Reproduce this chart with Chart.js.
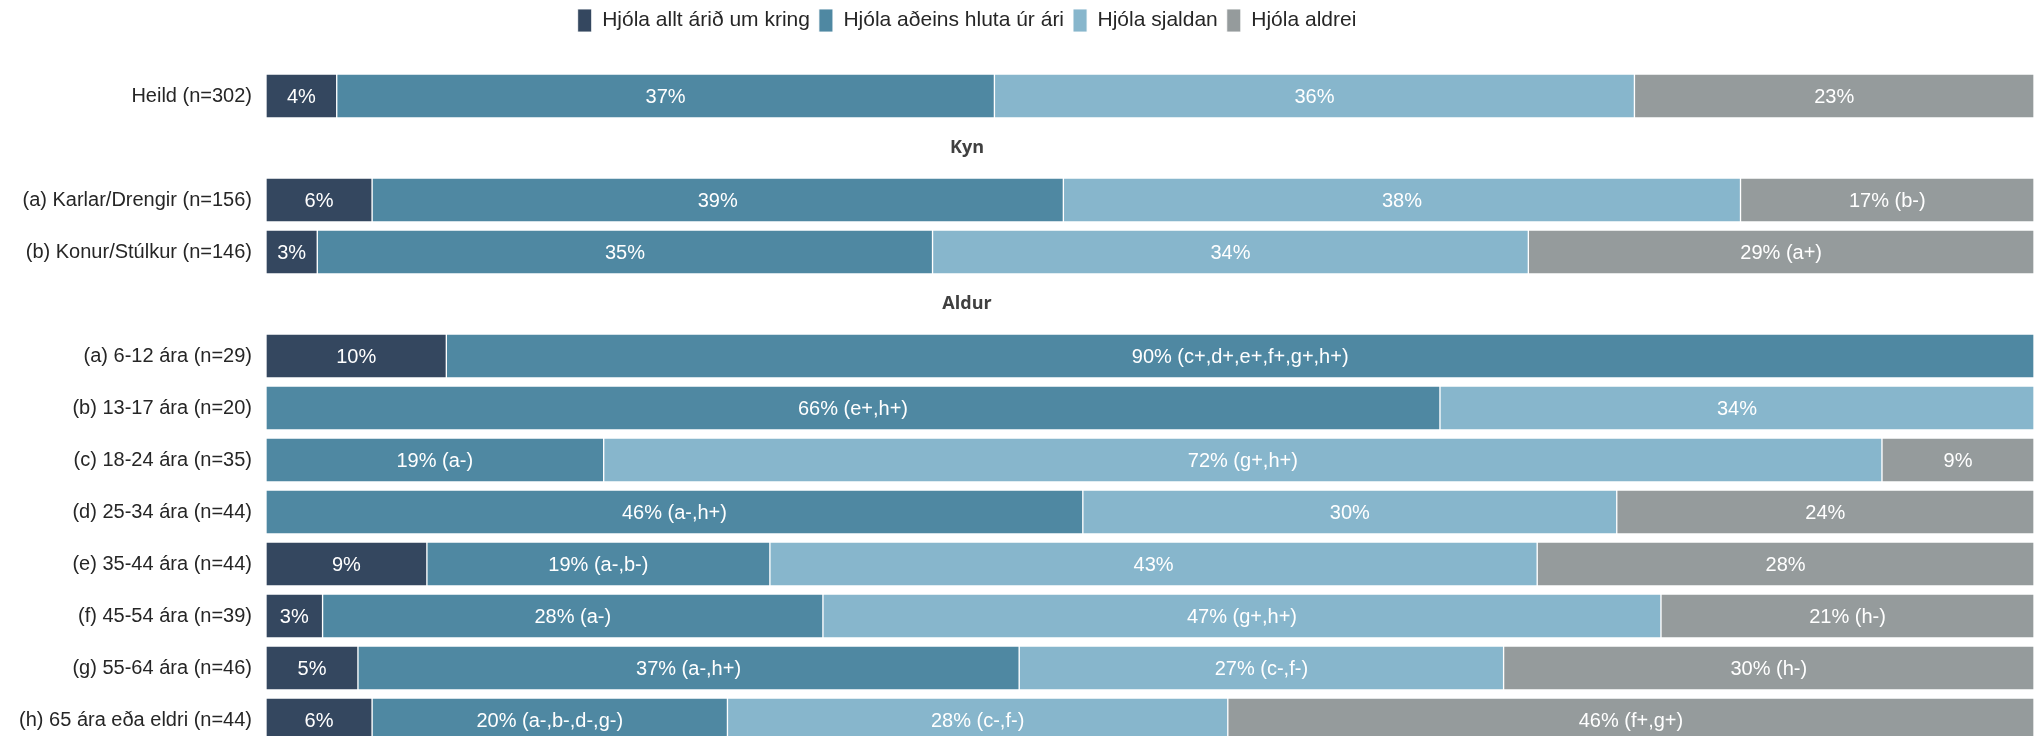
<!DOCTYPE html>
<html>
<head>
<meta charset="utf-8">
<script src="https://cdn.jsdelivr.net/npm/chart.js@4.4.0/dist/chart.umd.min.js"></script>
<style>
    body { margin: 0; background: #fff; }
    #wrap { width: 2034px; height: 736px; overflow: hidden; }
</style>
</head>
<body>
<div id="wrap"><canvas id="barChart" width="2034" height="772"></canvas></div>
<script>
// categories (header rows have no bars)
const categories = ['Heild (n=302)', 'Kyn', '(a) Karlar/Drengir (n=156)', '(b) Konur/Stúlkur (n=146)', 'Aldur',
    '(a) 6-12 ára (n=29)', '(b) 13-17 ára (n=20)', '(c) 18-24 ára (n=35)', '(d) 25-34 ára (n=44)',
    '(e) 35-44 ára (n=44)', '(f) 45-54 ára (n=39)', '(g) 55-64 ára (n=46)', '(h) 65 ára eða eldri (n=44)'];
const headerRows = ['Kyn', 'Aldur'];

const seriesNames = ['Hjóla allt árið um kring', 'Hjóla aðeins hluta úr ári', 'Hjóla sjaldan', 'Hjóla aldrei'];
const seriesColors = ['#34475F', '#4F88A2', '#87B6CC', '#959B9C'];

const allYear  = [4.0, null, 6.0, 2.9, null, 10.2, 0, 0, 0, 9.1, 3.2, 5.2, 6.0];
const partYear = [37.2, null, 39.1, 34.8, null, 89.8, 66.4, 19.1, 46.2, 19.4, 28.3, 37.4, 20.1];
const seldom   = [36.2, null, 38.3, 33.7, null, 0, 33.6, 72.3, 30.2, 43.4, 47.4, 27.4, 28.3];
const never    = [22.6, null, 16.6, 28.6, null, 0, 0, 8.6, 23.6, 28.1, 21.1, 30.0, 45.6];

// significance notes shown after the percentage
const allYearNotes  = ['', '', '', '', '', '', '', '', '', '', '', '', ''];
const partYearNotes = ['', '', '', '', '', '(c+,d+,e+,f+,g+,h+)', '(e+,h+)', '(a-)', '(a-,h+)', '(a-,b-)', '(a-)', '(a-,h+)', '(a-,b-,d-,g-)'];
const seldomNotes   = ['', '', '', '', '', '', '', '(g+,h+)', '', '', '(g+,h+)', '(c-,f-)', '(c-,f-)'];
const neverNotes    = ['', '', '(b-)', '(a+)', '', '', '', '', '', '', '(h-)', '(h-)', '(f+,g+)'];

const seriesValues = [allYear, partYear, seldom, never];
const seriesNotes = [allYearNotes, partYearNotes, seldomNotes, neverNotes];

const labelFont = '"Liberation Sans", Arial, sans-serif';
const centerX = 967;

const legendPlace = {
    id: 'legendPlace',
    beforeInit(chart) {
        const fit = chart.legend.fit;
        chart.legend.fit = function () {
            fit.bind(chart.legend)();
            this.height = 70;
        };
    },
    afterLayout(chart) {
        const lg = chart.legend;
        const dx = centerX - (lg.left + lg.right) / 2;
        lg.left += dx;
        lg.right += dx;
    }
};

const barLabels = {
    id: 'barLabels',
    afterDatasetsDraw(chart) {
        const ctx = chart.ctx;
        const area = chart.chartArea;
        ctx.save();
        ctx.font = '20px ' + labelFont;
        ctx.fillStyle = '#ffffff';
        ctx.textAlign = 'center';
        ctx.textBaseline = 'middle';
        chart.data.datasets.forEach(function (ds, i) {
            chart.getDatasetMeta(i).data.forEach(function (bar, j) {
                const v = ds.data[j];
                if (!v) return;
                const x0 = Math.max(Math.min(bar.base, bar.x), area.left);
                const x1 = Math.min(Math.max(bar.base, bar.x), area.right);
                const note = seriesNotes[i][j];
                ctx.fillText(Math.round(v) + '%' + (note ? ' ' + note : ''), (x0 + x1) / 2, bar.y + 1);
            });
        });
        // section headers
        ctx.font = 'bold 18px "Open Sans", sans-serif';
        ctx.fillStyle = '#404040';
        const yScale = chart.scales.y;
        headerRows.forEach(function (h) {
            ctx.fillText(h, centerX, yScale.getPixelForValue(categories.indexOf(h)));
        });
        ctx.restore();
    }
};

const datasets = seriesNames.map(function (name, i) {
    return {
        label: name,
        data: seriesValues[i],
        backgroundColor: seriesColors[i],
        borderColor: 'rgba(255,255,255,0.85)',
        borderWidth: 1,
        borderSkipped: false,
        barThickness: 44
    };
});

new Chart(document.getElementById('barChart'), {
    type: 'bar',
    data: { labels: categories, datasets: datasets },
    options: {
        indexAxis: 'y',
        responsive: false,
        animation: false,
        layout: { padding: 0 },
        plugins: {
            legend: {
                position: 'top',
                labels: {
                    boxWidth: 14,
                    boxHeight: 23,
                    padding: 9,
                    color: '#262626',
                    font: { family: labelFont, size: 21 }
                }
            },
            tooltip: { enabled: false }
        },
        scales: {
            x: { stacked: true, min: 0, max: 100, display: false },
            y: {
                stacked: true,
                grid: { display: false, drawTicks: false },
                border: { display: false },
                ticks: {
                    padding: 14,
                    color: '#262626',
                    font: { family: labelFont, size: 20 },
                    callback: function (value) {
                        const lab = categories[value];
                        return headerRows.includes(lab) ? '' : lab;
                    }
                },
                afterFit: function (scale) { scale.width = 266; }
            }
        }
    },
    plugins: [legendPlace, barLabels]
});
</script>
</body>
</html>
